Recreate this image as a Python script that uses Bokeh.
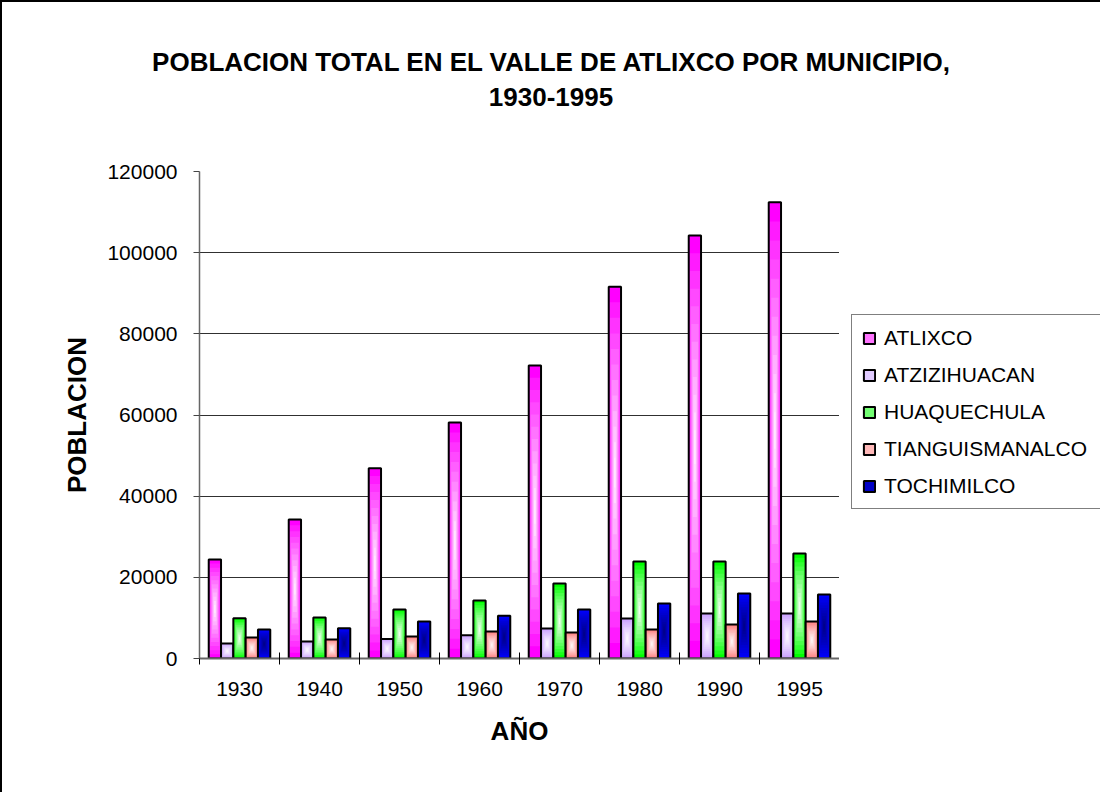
import numpy as np
from bokeh.plotting import figure
from bokeh.models import Range1d, FixedTicker, Legend, LegendItem, BasicTickFormatter, Div
from bokeh.layouts import column, row
from bokeh.embed import file_html
from bokeh.resources import INLINE

# ---------------- data ----------------
years = ["1930", "1940", "1950", "1960", "1970", "1980", "1990", "1995"]
series_names = ["ATLIXCO", "ATZIZIHUACAN", "HUAQUECHULA", "TIANGUISMANALCO", "TOCHIMILCO"]
atlixco = [24400, 34250, 46900, 58150, 72200, 91600, 104200, 112400]
atzizihuacan = [3700, 4200, 4800, 5700, 7400, 9850, 11100, 11100]
huaquechula = [9900, 10100, 12100, 14300, 18450, 23900, 23900, 25900]
tianguismanalco = [5150, 4700, 5400, 6650, 6400, 7150, 8400, 9100]
tochimilco = [7150, 7450, 9100, 10550, 12100, 13550, 16000, 15750]
y_ticks = [0, 20000, 40000, 60000, 80000, 100000, 120000]
title_lines = ["POBLACION TOTAL EN EL VALLE DE ATLIXCO POR MUNICIPIO,", "1930-1995"]

# ---------------- styles ----------------
edge_colors = ["#ff00ff", "#c9a0ff", "#00ff00", "#ff7f7f", "#0000ff"]
center_colors = ["#ffffff", "#ffffff", "#ffffff", "#ffffff", "#000080"]
FONT = "Liberation Sans"

values = [atlixco, atzizihuacan, huaquechula, tianguismanalco, tochimilco]
n_cat = len(years)
n_ser = len(series_names)
bar_w = 1.0 / (n_ser + 1.5)          # Excel gap width 150 %
group_off = (1.0 - n_ser * bar_w) / 2.0

TOTAL_W = 1098
LEFT_B = 197
FRAME_W = 640
MAIN_W = LEFT_B + FRAME_W
LEG_W = TOTAL_W - MAIN_W
H = 660

p = figure(width=MAIN_W, height=H, frame_width=FRAME_W, frame_height=487,
           x_range=Range1d(0, n_cat), y_range=Range1d(y_ticks[0], y_ticks[-1]),
           output_backend="svg", toolbar_location=None,
           min_border_left=LEFT_B, min_border_top=39, min_border_right=0,
           min_border_bottom=134)
p.outline_line_color = None
p.background_fill_color = "white"
p.border_fill_color = "white"


def hex2rgb(h):
    h = h.lstrip("#")
    return np.array([int(h[i:i + 2], 16) for i in (0, 2, 4)], dtype=float)


def rgb2hex(c):
    c = np.clip(np.round(c), 0, 255).astype(int)
    return "#%02x%02x%02x" % tuple(c)


fracs = np.linspace(1.0, 0.08, 12)
for j, (name, vals) in enumerate(zip(series_names, values)):
    v = np.array(vals, dtype=float)
    xs = np.arange(n_cat) + group_off + bar_w * (j + 0.5)
    e = hex2rgb(edge_colors[j])
    c = hex2rgb(center_colors[j])
    for f in fracs:
        t = (1.0 - f) ** 0.9
        col = rgb2hex(e * (1 - t) + c * t)
        p.vbar(x=xs, width=bar_w * f, top=v / 2 * (1 + f), bottom=v / 2 * (1 - f),
               fill_color=col, line_color=None)
    p.vbar(x=xs, width=bar_w, top=v, bottom=0, fill_color=None,
           line_color="black", line_width=2)

# ---------------- axes ----------------
centers = [i + 0.5 for i in range(n_cat)]
bounds = list(range(n_cat + 1))
xa = p.xaxis[0]
xa.ticker = FixedTicker(ticks=centers, minor_ticks=bounds)
xa.major_label_overrides = {c: y for c, y in zip(centers, years)}
xa.major_tick_in = 0
xa.major_tick_out = 0
xa.minor_tick_in = 6
xa.minor_tick_out = 6
xa.minor_tick_line_color = "black"
xa.axis_line_color = "#666666"
xa.axis_line_width = 2
xa.major_label_text_font = FONT
xa.major_label_text_font_size = "21px"
xa.major_label_text_color = "black"
xa.major_label_standoff = 17
xa.axis_label = "AÑO"
xa.axis_label_text_font = FONT
xa.axis_label_text_font_size = "26px"
xa.axis_label_text_font_style = "bold"
xa.axis_label_text_color = "black"
xa.axis_label_standoff = 17

ya = p.yaxis[0]
ya.ticker = FixedTicker(ticks=y_ticks)
ya.formatter = BasicTickFormatter(use_scientific=False)
ya.major_tick_in = 0
ya.major_tick_out = 6
ya.major_tick_line_color = "#444444"
ya.minor_tick_line_color = None
ya.axis_line_color = "#666666"
ya.axis_line_width = 1.5
ya.major_label_text_font = FONT
ya.major_label_text_font_size = "21px"
ya.major_label_text_color = "black"
ya.major_label_standoff = 16
ya.axis_label = "POBLACION"
ya.axis_label_text_font = FONT
ya.axis_label_text_font_size = "26px"
ya.axis_label_text_font_style = "bold"
ya.axis_label_text_color = "black"
ya.axis_label_standoff = 12

p.xgrid.grid_line_color = None
p.ygrid.ticker = FixedTicker(ticks=y_ticks[1:-1])
p.ygrid.grid_line_color = "#303030"
p.ygrid.grid_line_width = 1

# ---------------- legend (own panel to the right of the plot area) ----------------
lg = figure(width=LEG_W, height=H, frame_width=LEG_W, frame_height=H,
            x_range=Range1d(0, 1), y_range=Range1d(0, 1),
            output_backend="svg", toolbar_location=None,
            min_border_left=0, min_border_right=0, min_border_top=0, min_border_bottom=0)
lg.axis.visible = False
lg.grid.visible = False
lg.outline_line_color = None
lg.background_fill_color = "white"
lg.border_fill_color = "white"

legend_items = []
for j, name in enumerate(series_names):
    e = hex2rgb(edge_colors[j])
    c = hex2rgb(center_colors[j])
    # zero-size, off-range swatch renderer: only its legend glyph is seen
    sw = lg.vbar(x=[-1], top=[0], bottom=[0], width=0,
                 fill_color=rgb2hex(e * 0.55 + c * 0.45),
                 line_color="black", line_width=2)
    legend_items.append(LegendItem(label=name, renderers=[sw]))

legend = Legend(items=legend_items, location=(12, 283), orientation="vertical",
                label_text_font=FONT, label_text_font_size="21px", label_text_color="black",
                glyph_width=14, glyph_height=14, label_height=25, label_width=230,
                spacing=12, padding=10, margin=0, label_standoff=8,
                border_line_color="black", border_line_width=1,
                background_fill_color="white", background_fill_alpha=1.0)
lg.add_layout(legend, "center")

# ---------------- title ----------------
title_html = ('<div style="width:%dpx; padding-top:43px; line-height:35px; text-align:center; '
              'font-family:\'Liberation Sans\', Arial, sans-serif; font-weight:bold; '
              'font-size:26px; color:black;">' % TOTAL_W + "<br>".join(title_lines) + "</div>")
title_div = Div(text=title_html, width=TOTAL_W, height=130, margin=0)

layout = column(title_div, row(p, lg, spacing=0), spacing=0,
                styles={"border-left": "2px solid black", "border-top": "2px solid black"})

open("out.html", "w").write(file_html(layout, INLINE))
